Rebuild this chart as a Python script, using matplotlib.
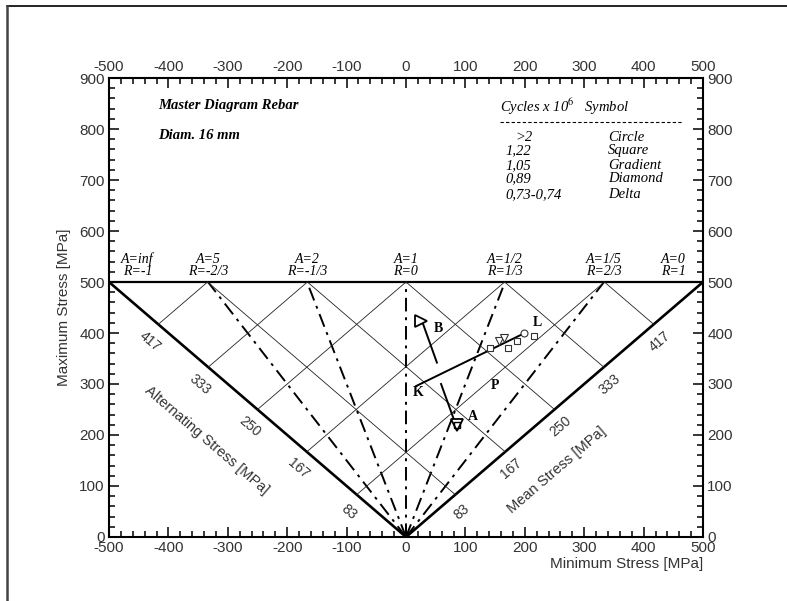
import numpy as np
import matplotlib.pyplot as plt
from matplotlib.lines import Line2D

plt.rcParams['font.family'] = ['Liberation Sans', 'DejaVu Sans']
plt.rcParams['mathtext.fontset'] = 'stix'
plt.rcParams['axes.unicode_minus'] = False

# stress ratio lines R = Smin/Smax, drawn up to the Smax limit
smax_limit = 500
r_values = [-1, -2/3, -1/3, 0, 1/3, 2/3, 1]
a_labels = ['A=inf', 'A=5', 'A=2', 'A=1', 'A=1/2', 'A=1/5', 'A=0']
r_labels = ['R=-1', 'R=-2/3', 'R=-1/3', 'R=0', 'R=1/3', 'R=2/3', 'R=1']

# alternating / mean stress grid levels
stress_levels = [83, 167, 250, 333, 417]

# test results (min stress, max stress)
square_min = [141, 172, 187, 215]
square_max = [371, 371, 384, 394]
circle_min = [199]
circle_max = [400]
gradient_min = [157, 165]
gradient_max = [384, 390]
delta_b = (26, 424)
delta_a = (85, 219)

# trend lines
path_k = [(17, 296), (200, 400)]
path_b = [(28, 420), (52, 342)]
path_a = [(59, 300), (82, 226)]

# point labels
point_names = ['K', 'B', 'A', 'P', 'L']
point_pos = [(20, 284), (54, 408), (113, 237), (150, 298), (222, 420)]

legend_cycles = ['>2', '1,22', '1,05', '0,89', '0,73-0,74']
legend_symbols = ['Circle', 'Square', 'Gradient', 'Diamond', 'Delta']

serif = 'Liberation Serif'
gray = '#333333'

fig = plt.figure(figsize=(7.87, 6.01), dpi=100)
ax = fig.add_axes([0.1385, 0.1065, 0.7548, 0.7637])
ax.set_xlim(-500, 500)
ax.set_ylim(0, 900)

# outer frame (top + left only)
fig.add_artist(Line2D([7/787, 1], [1-6/601, 1-6/601], color='k', lw=1.2))
fig.add_artist(Line2D([7/787, 7/787], [0, 1-6/601], color='#444444', lw=1.8))

# ticks
ax.set_xticks(np.arange(-500, 501, 100))
ax.set_yticks(np.arange(0, 901, 100))
ax.set_xticks(np.arange(-500, 501, 20), minor=True)
ax.set_yticks(np.arange(0, 901, 20), minor=True)
ax.tick_params(which='both', direction='in', top=True, right=True,
               labeltop=True, labelright=True, width=1.1, colors='k',
               labelcolor=gray, labelsize=11, pad=3)
ax.tick_params(which='major', length=7)
ax.tick_params(which='minor', length=4)
for sp in ax.spines.values():
    sp.set_linewidth(1.5)

ax.set_ylabel('Maximum Stress [MPa]', fontsize=11, color=gray, labelpad=6)
ax.set_xlabel('Minimum Stress [MPa]', fontsize=11, color=gray, labelpad=1,
              loc='right')

# boundary of the diagram
ax.plot([-smax_limit, smax_limit], [smax_limit, smax_limit], color='k', lw=1.6)
ax.plot([-smax_limit, 0, smax_limit], [smax_limit, 0, smax_limit], color='k', lw=1.9)

# R lines
for r in r_values[1:-1]:
    ax.plot([0, smax_limit * r], [0, smax_limit], color='k', lw=1.4,
            ls=(0, (7, 3, 1.5, 3)))

# diamond grid
for s in stress_levels:
    ax.plot([-s, smax_limit - 2 * s], [s, smax_limit], color='#222222', lw=0.6)
    ax.plot([s, 2 * s - smax_limit], [s, smax_limit], color='#222222', lw=0.6)

# A / R labels above the limit line
for r, a_lab, r_lab in zip(r_values, a_labels, r_labels):
    x = np.clip(smax_limit * r, -452, 450)
    ax.text(x, 545, a_lab, ha='center', va='center', family=serif,
            style='italic', fontsize=10)
    ax.text(x, 521, r_lab, ha='center', va='center', family=serif,
            style='italic', fontsize=10)

# screen angle of the boundary lines
fig.canvas.draw()
p0 = ax.transData.transform((-smax_limit, smax_limit))
p1 = ax.transData.transform((0, 0))
ang = np.degrees(np.arctan2(p1[1] - p0[1], p1[0] - p0[0]))

for s in stress_levels:
    ax.annotate(str(s), xy=(-s, s), xytext=(-8, -17), textcoords='offset pixels',
                rotation=ang, ha='center', va='center', fontsize=10, color=gray)
    ax.annotate(str(s), xy=(s, s), xytext=(6, -17), textcoords='offset pixels',
                rotation=-ang, ha='center', va='center', fontsize=10, color=gray)

ax.text(-335, 190, 'Alternating Stress [MPa]', rotation=ang, ha='center',
        va='center', fontsize=10.5, color=gray, rotation_mode='anchor')
ax.text(254, 131, 'Mean Stress [MPa]', rotation=-ang, ha='center',
        va='center', fontsize=10.5, color=gray, rotation_mode='anchor')

# test data
for path in (path_k, path_b, path_a):
    xs, ys = zip(*path)
    ax.plot(xs, ys, color='k', lw=1.4)
ax.plot(square_min, square_max, 's', ms=5, mfc='white', mec='#333333', mew=0.8)
ax.plot(circle_min, circle_max, 'o', ms=5, mfc='white', mec='#333333', mew=0.8)
ax.plot(gradient_min, gradient_max, 'v', ms=6, mfc='white', mec='#333333', mew=0.8)
ax.plot(*delta_b, '>', ms=8, mfc='white', mec='k', mew=1.3)
ax.plot(*delta_a, 'v', ms=8, mfc='white', mec='k', mew=1.3)
ax.plot(*delta_a, 's', ms=5, mfc='none', mec='k', mew=1.0)

for name, (x, y) in zip(point_names, point_pos):
    ax.text(x, y, name, ha='center', va='center', family=serif,
            weight='bold', fontsize=10)

# header texts
ax.text(-417, 847, 'Master Diagram Rebar', family=serif, style='italic',
        weight='bold', fontsize=10.5, va='center')
ax.text(-417, 788, 'Diam. 16 mm', family=serif, style='italic',
        weight='bold', fontsize=10.5, va='center')

ax.text(158, 843, 'Cycles x 10$^{6}$   Symbol', family=serif, style='italic',
        fontsize=10.5, va='center')
ax.plot([158, 465], [814, 814], color='k', lw=0.8, ls=(0, (3, 2)))
legend_y = [784, 757, 729, 702, 671]
for cyc, sym, y in zip(legend_cycles, legend_symbols, legend_y):
    x = 184 if cyc == '>2' else 167
    ax.text(x, y, cyc, family=serif, style='italic', fontsize=10.5, va='center')
    ax.text(340, y, sym, family=serif, style='italic', fontsize=10.5, va='center')

fig.savefig('out.png', dpi=100)
